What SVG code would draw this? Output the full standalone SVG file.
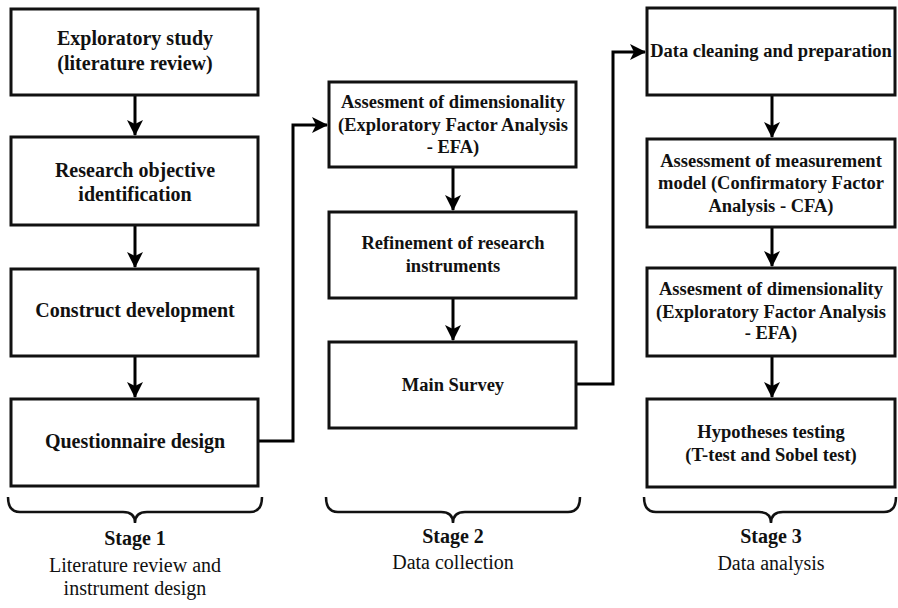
<svg xmlns="http://www.w3.org/2000/svg" width="898" height="608" viewBox="0 0 898 608">
<defs>
<marker id="ah" markerUnits="userSpaceOnUse" markerWidth="18" markerHeight="18" viewBox="0 0 18 18" refX="16" refY="9" orient="auto">
<path d="M1,1 L17,9 L1,17 L5,9 z" fill="#000"/>
</marker>
<style>
.box{fill:#fff;stroke:#111;stroke-width:3}
.t{font-family:"Liberation Serif","Times New Roman",serif;font-weight:bold;fill:#111;text-anchor:middle}
.l1{font-size:20px}
.l2{font-size:18.5px}
.c{fill:none;stroke:#000;stroke-width:3}
.br{fill:none;stroke:#111;stroke-width:2.5}
.st{font-family:"Liberation Serif","Times New Roman",serif;font-size:20px;fill:#111;text-anchor:middle}
</style>
</defs>
<rect width="898" height="608" fill="#fff"/>
<g id="connectors">
<path class="c" d="M135,95 V135" marker-end="url(#ah)"/>
<path class="c" d="M135,225 V267" marker-end="url(#ah)"/>
<path class="c" d="M135,356 V397" marker-end="url(#ah)"/>
<path class="c" d="M258,441 H293 V125 H327" marker-end="url(#ah)"/>
<path class="c" d="M453,167 V210" marker-end="url(#ah)"/>
<path class="c" d="M453,298 V340" marker-end="url(#ah)"/>
<path class="c" d="M576,384 H613 V52 H645" marker-end="url(#ah)"/>
<path class="c" d="M772,95 V137" marker-end="url(#ah)"/>
<path class="c" d="M772,227 V266" marker-end="url(#ah)"/>
<path class="c" d="M772,356 V397" marker-end="url(#ah)"/>
</g>
<g id="n1"><rect class="box" x="11" y="9" width="247" height="86"/><text class="t l1" x="135" y="45">Exploratory study</text><text class="t l1" x="135" y="70">(literature review)</text></g>
<g id="n2"><rect class="box" x="11" y="137" width="247" height="88"/><text class="t l1" x="135" y="177">Research objective</text><text class="t l1" x="135" y="201">identification</text></g>
<g id="n3"><rect class="box" x="11" y="269" width="247" height="87"/><text class="t l1" x="135" y="317">Construct development</text></g>
<g id="n4"><rect class="box" x="11" y="399" width="247" height="87"/><text class="t l1" x="135" y="448">Questionnaire design</text></g>
<g id="n5"><rect class="box" x="329" y="82" width="247" height="85"/><text class="t l2" x="453" y="108">Assesment of dimensionality</text><text class="t l2" x="453" y="131">(Exploratory Factor Analysis</text><text class="t l2" x="453" y="153">- EFA)</text></g>
<g id="n6"><rect class="box" x="329" y="212" width="247" height="86"/><text class="t l2" x="453" y="249">Refinement of research</text><text class="t l2" x="453" y="272">instruments</text></g>
<g id="n7"><rect class="box" x="329" y="342" width="247" height="86"/><text class="t l2" x="453" y="391">Main Survey</text></g>
<g id="n8"><rect class="box" x="647" y="8" width="248" height="87"/><text class="t l2" x="771" y="57">Data cleaning and preparation</text></g>
<g id="n9"><rect class="box" x="647" y="139" width="248" height="88"/><text class="t l2" x="771" y="167">Assessment of measurement</text><text class="t l2" x="771" y="189">model (Confirmatory Factor</text><text class="t l2" x="771" y="212">Analysis - CFA)</text></g>
<g id="n10"><rect class="box" x="647" y="268" width="248" height="88"/><text class="t l2" x="771" y="295">Assesment of dimensionality</text><text class="t l2" x="771" y="318">(Exploratory Factor Analysis</text><text class="t l2" x="771" y="339">- EFA)</text></g>
<g id="n11"><rect class="box" x="647" y="399" width="248" height="88"/><text class="t l2" x="771" y="438">Hypotheses testing</text><text class="t l2" x="771" y="461">(T-test and Sobel test)</text></g>
<g id="stage1"><path class="br" d="M8,497 Q8,512 20,512 H123 Q135,512 135,523 Q135,512 147,512 H250 Q262,512 262,497"/><text class="st" x="135" y="545" font-weight="bold">Stage 1</text><text class="st" x="135" y="572">Literature review and</text><text class="st" x="135" y="595">instrument design</text></g>
<g id="stage2"><path class="br" d="M326,497 Q326,512 338,512 H441 Q453,512 453,523 Q453,512 465,512 H568 Q580,512 580,497"/><text class="st" x="453" y="543" font-weight="bold">Stage 2</text><text class="st" x="453" y="569">Data collection</text></g>
<g id="stage3"><path class="br" d="M644,497 Q644,512 656,512 H759 Q771,512 771,523 Q771,512 783,512 H884 Q896,512 896,497"/><text class="st" x="771" y="543" font-weight="bold">Stage 3</text><text class="st" x="771" y="570">Data analysis</text></g>
</svg>
